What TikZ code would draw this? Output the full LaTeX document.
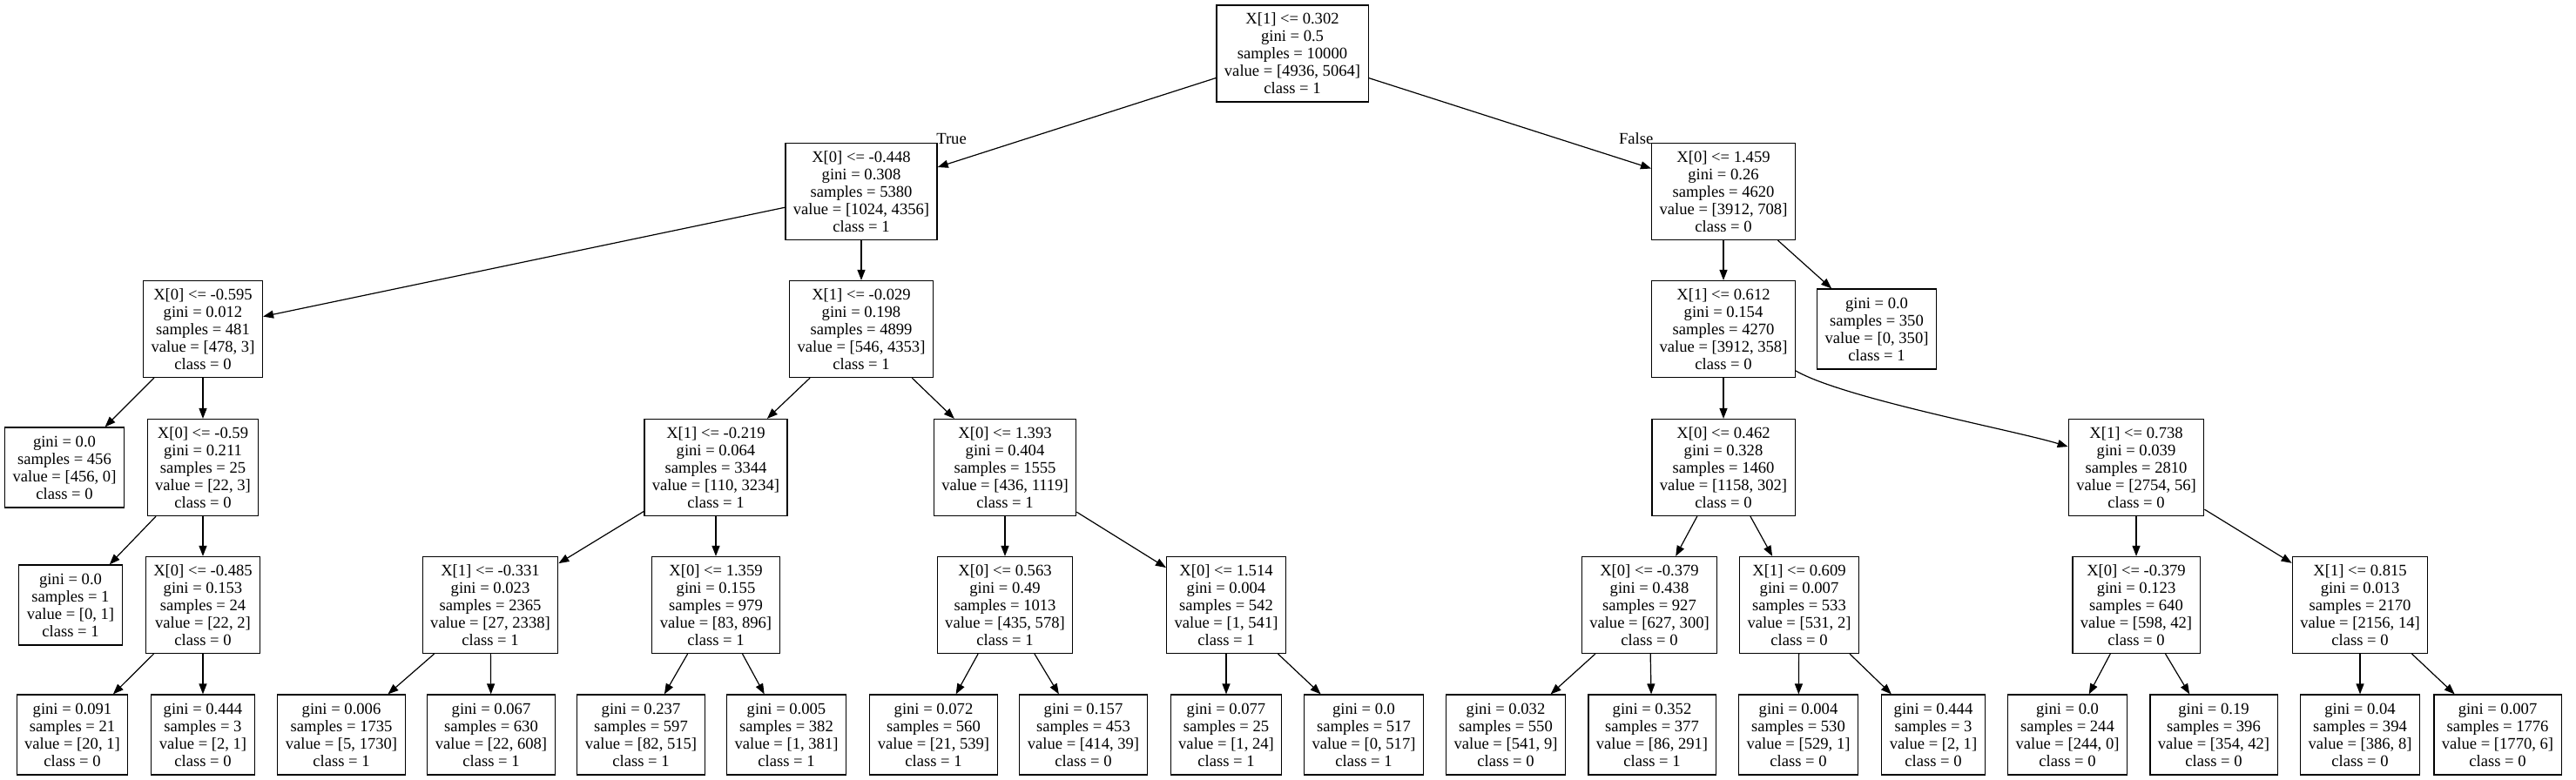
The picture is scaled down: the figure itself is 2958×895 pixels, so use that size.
\documentclass[tikz,border=0pt]{standalone}
\usepackage{fontspec}
\setmainfont{Liberation Serif}
\usepackage{tikz}
\usetikzlibrary{arrows.meta}

\begin{document}
\begin{tikzpicture}[x=0.5pt, y=-0.5pt,
  every node/.style={font=\fontsize{9.3}{10}\selectfont},
  decision/.style={draw, line width=0.6pt, align=center, inner xsep=4.5pt, inner ysep=0pt, minimum height=55.5pt},
  leaf/.style={decision, minimum height=46pt},
  branch/.style={-{Triangle[length=6pt,width=4.5pt]}, line width=0.6pt},
  answer/.style={inner sep=0pt}]

\useasboundingbox (0,0) rectangle (2958,895);

% Root split
\node[decision] (root) at (1484,61.5) {X[1] <= 0.302\\gini = 0.5\\samples = 10000\\value = [4936, 5064]\\class = 1};

% Depth 1
\node[decision] (L) at (989,220) {X[0] <= -0.448\\gini = 0.308\\samples = 5380\\value = [1024, 4356]\\class = 1};
\node[decision] (R) at (1979,220) {X[0] <= 1.459\\gini = 0.26\\samples = 4620\\value = [3912, 708]\\class = 0};

% Depth 2
\node[decision] (LL) at (233,378) {X[0] <= -0.595\\gini = 0.012\\samples = 481\\value = [478, 3]\\class = 0};
\node[decision] (LR) at (989,378) {X[1] <= -0.029\\gini = 0.198\\samples = 4899\\value = [546, 4353]\\class = 1};
\node[decision] (RL) at (1979,378) {X[1] <= 0.612\\gini = 0.154\\samples = 4270\\value = [3912, 358]\\class = 0};
\node[leaf] (RR) at (2155,378) {gini = 0.0\\samples = 350\\value = [0, 350]\\class = 1};

% Depth 3
\node[leaf] (LLL) at (74,537) {gini = 0.0\\samples = 456\\value = [456, 0]\\class = 0};
\node[decision] (LLR) at (233,537) {X[0] <= -0.59\\gini = 0.211\\samples = 25\\value = [22, 3]\\class = 0};
\node[decision] (LRL) at (822,537) {X[1] <= -0.219\\gini = 0.064\\samples = 3344\\value = [110, 3234]\\class = 1};
\node[decision] (LRR) at (1154,537) {X[0] <= 1.393\\gini = 0.404\\samples = 1555\\value = [436, 1119]\\class = 1};
\node[decision] (RLL) at (1979,537) {X[0] <= 0.462\\gini = 0.328\\samples = 1460\\value = [1158, 302]\\class = 0};
\node[decision] (RLR) at (2453,537) {X[1] <= 0.738\\gini = 0.039\\samples = 2810\\value = [2754, 56]\\class = 0};

% Depth 4
\node[leaf] (LLRL) at (81,695) {gini = 0.0\\samples = 1\\value = [0, 1]\\class = 1};
\node[decision] (LLRR) at (233,695) {X[0] <= -0.485\\gini = 0.153\\samples = 24\\value = [22, 2]\\class = 0};
\node[decision] (LRLL) at (563,695) {X[1] <= -0.331\\gini = 0.023\\samples = 2365\\value = [27, 2338]\\class = 1};
\node[decision] (LRLR) at (822,695) {X[0] <= 1.359\\gini = 0.155\\samples = 979\\value = [83, 896]\\class = 1};
\node[decision] (LRRL) at (1154,695) {X[0] <= 0.563\\gini = 0.49\\samples = 1013\\value = [435, 578]\\class = 1};
\node[decision] (LRRR) at (1408,695) {X[0] <= 1.514\\gini = 0.004\\samples = 542\\value = [1, 541]\\class = 1};
\node[decision] (RLLL) at (1894,695) {X[0] <= -0.379\\gini = 0.438\\samples = 927\\value = [627, 300]\\class = 0};
\node[decision] (RLLR) at (2066,695) {X[1] <= 0.609\\gini = 0.007\\samples = 533\\value = [531, 2]\\class = 0};
\node[decision] (RLRL) at (2453,695) {X[0] <= -0.379\\gini = 0.123\\samples = 640\\value = [598, 42]\\class = 0};
\node[decision] (RLRR) at (2710,695) {X[1] <= 0.815\\gini = 0.013\\samples = 2170\\value = [2156, 14]\\class = 0};

% Depth 5 (leaves)
\node[leaf] (LLRRL) at (83,844) {gini = 0.091\\samples = 21\\value = [20, 1]\\class = 0};
\node[leaf] (LLRRR) at (233,844) {gini = 0.444\\samples = 3\\value = [2, 1]\\class = 0};
\node[leaf] (LRLLL) at (392,844) {gini = 0.006\\samples = 1735\\value = [5, 1730]\\class = 1};
\node[leaf] (LRLLR) at (564,844) {gini = 0.067\\samples = 630\\value = [22, 608]\\class = 1};
\node[leaf] (LRLRL) at (736,844) {gini = 0.237\\samples = 597\\value = [82, 515]\\class = 1};
\node[leaf] (LRLRR) at (903,844) {gini = 0.005\\samples = 382\\value = [1, 381]\\class = 1};
\node[leaf] (LRRLL) at (1072,844) {gini = 0.072\\samples = 560\\value = [21, 539]\\class = 1};
\node[leaf] (LRRLR) at (1244,844) {gini = 0.157\\samples = 453\\value = [414, 39]\\class = 0};
\node[leaf] (LRRRL) at (1408,844) {gini = 0.077\\samples = 25\\value = [1, 24]\\class = 1};
\node[leaf] (LRRRR) at (1566,844) {gini = 0.0\\samples = 517\\value = [0, 517]\\class = 1};
\node[leaf] (RLLLL) at (1729,844) {gini = 0.032\\samples = 550\\value = [541, 9]\\class = 0};
\node[leaf] (RLLLR) at (1897,844) {gini = 0.352\\samples = 377\\value = [86, 291]\\class = 1};
\node[leaf] (RLLRL) at (2065,844) {gini = 0.004\\samples = 530\\value = [529, 1]\\class = 0};
\node[leaf] (RLLRR) at (2220,844) {gini = 0.444\\samples = 3\\value = [2, 1]\\class = 0};
\node[leaf] (RLRLL) at (2374,844) {gini = 0.0\\samples = 244\\value = [244, 0]\\class = 0};
\node[leaf] (RLRLR) at (2542,844) {gini = 0.19\\samples = 396\\value = [354, 42]\\class = 0};
\node[leaf] (RLRRL) at (2710,844) {gini = 0.04\\samples = 394\\value = [386, 8]\\class = 0};
\node[leaf] (RLRRR) at (2868,844) {gini = 0.007\\samples = 1776\\value = [1770, 6]\\class = 0};

% Draw the branches from the root
\draw[branch] (root) -- (L) node[answer, pos=1, anchor=south west, xshift=-1pt, yshift=13pt] {True};
\draw[branch] (root) -- (R) node[answer, pos=1, anchor=south east, xshift=1.5pt, yshift=13.5pt] {False};

% Draw the left subtree
\draw[branch] (L) -- (LL);
\draw[branch] (L) -- (LR);
\draw[branch] (LL) -- (LLL);
\draw[branch] (LL) -- (LLR);
\draw[branch] (LLR) -- (LLRL);
\draw[branch] (LLR) -- (LLRR);
\draw[branch] (LLRR) -- (LLRRL);
\draw[branch] (LLRR) -- (LLRRR);
\draw[branch] (LR) -- (LRL);
\draw[branch] (LR) -- (LRR);
\draw[branch] (LRL) -- (LRLL);
\draw[branch] (LRL) -- (LRLR);
\draw[branch] (LRLL) -- (LRLLL);
\draw[branch] (LRLL) -- (LRLLR);
\draw[branch] (LRLR) -- (LRLRL);
\draw[branch] (LRLR) -- (LRLRR);
\draw[branch] (LRR) -- (LRRL);
\draw[branch] (LRR) -- (LRRR);
\draw[branch] (LRRL) -- (LRRLL);
\draw[branch] (LRRL) -- (LRRLR);
\draw[branch] (LRRR) -- (LRRRL);
\draw[branch] (LRRR) -- (LRRRR);

% Draw the right subtree
\draw[branch] (R) -- (RL);
\draw[branch] (R) -- (RR);
\draw[branch] (RL) -- (RLL);
\draw[branch] (RL) to[out=-30, in=163, looseness=0.5] (RLR);
\draw[branch] (RLL) -- (RLLL);
\draw[branch] (RLL) -- (RLLR);
\draw[branch] (RLLL) -- (RLLLL);
\draw[branch] (RLLL) -- (RLLLR);
\draw[branch] (RLLR) -- (RLLRL);
\draw[branch] (RLLR) -- (RLLRR);
\draw[branch] (RLR) -- (RLRL);
\draw[branch] (RLR) -- (RLRR);
\draw[branch] (RLRL) -- (RLRLL);
\draw[branch] (RLRL) -- (RLRLR);
\draw[branch] (RLRR) -- (RLRRL);
\draw[branch] (RLRR) -- (RLRRR);

\end{tikzpicture}
\end{document}
